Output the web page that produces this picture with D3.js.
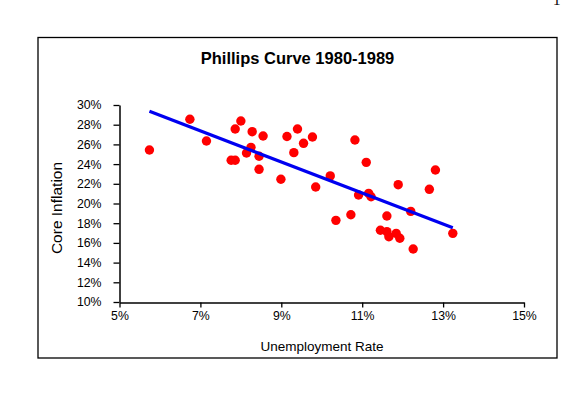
<!DOCTYPE html>
<html>
<head>
<meta charset="utf-8">
<script src="https://cdn.jsdelivr.net/npm/d3@7"></script>
<style>
  html, body { margin: 0; padding: 0; background: #fff; }
  svg { display: block; font-family: "Liberation Sans", Arial, sans-serif; }
</style>
</head>
<body>
<svg id="chart" width="569" height="397"></svg>
<script>
// Unemployment rate (%) and core inflation (%)
const unemployment = [5.74, 6.74, 7.15, 7.76, 7.86, 7.86, 8.00, 8.14, 8.25, 8.28,
  8.45, 8.45, 8.55, 8.99, 9.14, 9.31, 9.40, 9.55, 9.77, 9.85,
  10.21, 10.35, 10.72, 10.82, 10.91, 11.10, 11.16, 11.22, 11.45, 11.61,
  11.61, 11.66, 11.84, 11.89, 11.93, 12.20, 12.26, 12.66, 12.81, 13.24];
const inflation = [25.43, 28.55, 26.35, 24.39, 24.39, 27.56, 28.38, 25.13, 25.70, 27.29,
  24.80, 23.47, 26.85, 22.46, 26.80, 25.16, 27.56, 26.11, 26.75, 21.68,
  22.80, 18.29, 18.86, 26.45, 20.86, 24.18, 21.03, 20.69, 17.28, 18.73,
  17.14, 16.63, 16.97, 21.91, 16.47, 19.20, 15.38, 21.44, 23.40, 16.97];
// Trend line endpoints
const trendX = [5.74, 13.24];
const trendY = [29.36, 17.54];
// Tick labels
const xTicks = [5, 7, 9, 11, 13, 15];
const yTicks = [10, 12, 14, 16, 18, 20, 22, 24, 26, 28, 30];

const svg = d3.select("#chart");

const x = d3.scaleLinear().domain([5, 15]).range([119.5, 524]);
const y = d3.scaleLinear().domain([10, 30]).range([302, 105]);
const pct = d => d + "%";

// outer frame
svg.append("rect").attr("x", 38).attr("y", 37.5).attr("width", 519).attr("height", 320.5)
  .attr("fill", "none").attr("stroke", "#000").attr("stroke-width", 1.3);

// page number fragment at the top (cut off in the reference too)
svg.append("text").attr("x", 553).attr("y", 5).attr("font-family", "Liberation Serif, serif")
  .attr("font-size", 15).attr("fill", "#000").text("1");

// title
svg.append("text").attr("x", 297.5).attr("y", 64).attr("text-anchor", "middle")
  .attr("font-size", 16.5).attr("font-weight", "bold").attr("fill", "#000")
  .text("Phillips Curve 1980-1989");

// axes
const xAxis = svg.append("g").attr("transform", "translate(0,302.5)")
  .call(d3.axisBottom(x).tickValues(xTicks).tickFormat(pct).tickSizeInner(5).tickSizeOuter(0).tickPadding(4));
const yAxis = svg.append("g").attr("transform", "translate(119.5,0)")
  .call(d3.axisLeft(y).tickValues(yTicks).tickFormat(pct).tickSizeInner(6).tickSizeOuter(0).tickPadding(12));
[xAxis, yAxis].forEach(g => {
  g.selectAll("path").attr("stroke", "#000").attr("stroke-width", 1.5);
  g.selectAll("line").attr("stroke", "#000").attr("stroke-width", 1.3);
  g.selectAll("text").attr("font-size", 12.3).attr("fill", "#000")
    .attr("font-family", "Liberation Sans, Arial, sans-serif");
});

// axis titles
svg.append("text").attr("x", 322).attr("y", 351).attr("text-anchor", "middle")
  .attr("font-size", 13.5).attr("fill", "#000").text("Unemployment Rate");
svg.append("text").attr("transform", "translate(61.5,208) rotate(-90)").attr("text-anchor", "middle")
  .attr("font-size", 15.5).attr("fill", "#000").text("Core Inflation");

// points
svg.append("g").selectAll("circle").data(unemployment).join("circle")
  .attr("cx", d => x(d)).attr("cy", (d, i) => y(inflation[i])).attr("r", 4.7)
  .attr("fill", "#ff0000");

// trend line
svg.append("path").datum(trendX.map((d, i) => [d, trendY[i]]))
  .attr("d", d3.line().x(d => x(d[0])).y(d => y(d[1])))
  .attr("stroke", "#0000f0").attr("stroke-width", 3.2).attr("fill", "none");
</script>
</body>
</html>
